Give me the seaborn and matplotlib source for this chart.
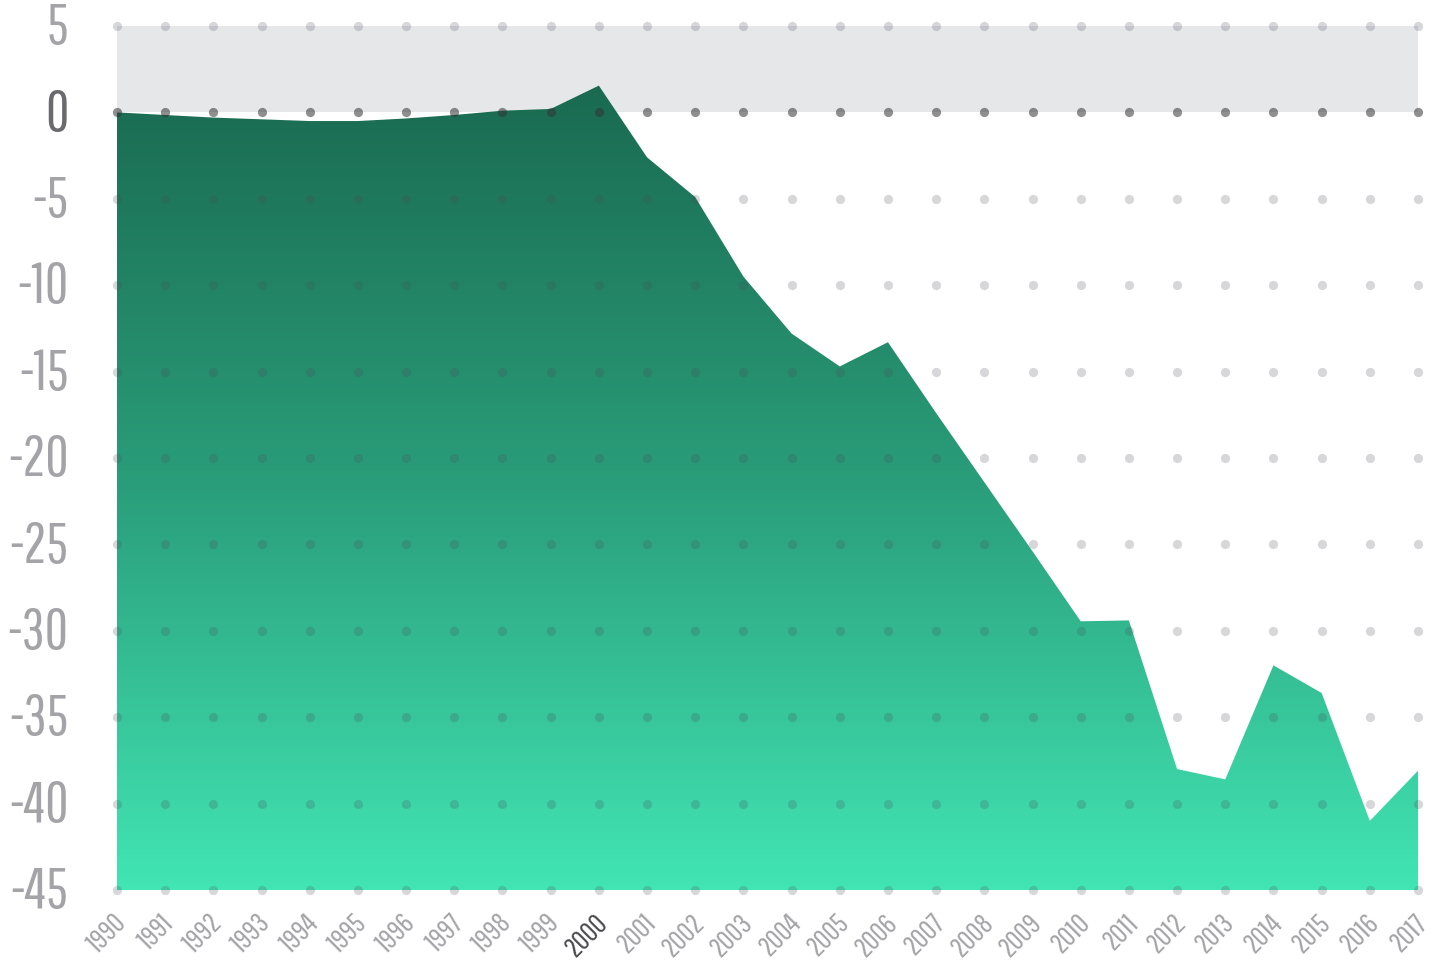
import matplotlib
matplotlib.use('Agg')
import matplotlib.pyplot as plt
import matplotlib.transforms as mtransforms
from matplotlib.colors import LinearSegmentedColormap
import seaborn as sns
import pandas as pd
import numpy as np

years = list(range(1990, 2018))
values = [0.0, -0.15, -0.3, -0.4, -0.5, -0.5, -0.35, -0.15, 0.1, 0.2,
          1.55, -2.6, -4.9, -9.5, -12.8, -14.7, -13.3, -17.4, -21.4, -25.4,
          -29.45, -29.4, -38.0, -38.6, -32.0, -33.6, -41.0, -38.1]
y_ticks = [5, 0, -5, -10, -15, -20, -25, -30, -35, -40, -45]

sns.set_style('white')
plt.rcParams['font.family'] = ['Pathway Gothic One', 'DejaVu Sans']

fig = plt.figure(figsize=(14.53, 9.65), dpi=100)
ax = fig.add_axes([117/1453, 1 - 890/965, (1418-117)/1453, (890-26)/965])
ax.set_xlim(1990, 2017)
ax.set_ylim(-45, 5)

# grey band above zero
ax.axhspan(0, 5, color='#e6e7e9', zorder=0, lw=0)

# gradient area clipped by the data polygon
poly = ax.fill_between(years, values, -45, color='none', lw=0, zorder=1)
cmap = LinearSegmentedColormap.from_list('grn', ['#1a6a50', '#2a9e7a', '#42e5b4'])
grad = np.linspace(0, 1, 256).reshape(-1, 1)
im = ax.imshow(grad, cmap=cmap, aspect='auto', extent=[1990, 2017, -45, 1.6],
               origin='upper', zorder=1)
im.set_clip_path(poly.get_paths()[0], transform=ax.transData)

# dotted grid
grid = pd.DataFrame([(x, y) for x in years for y in y_ticks], columns=['year', 'level'])
rest = grid[grid['level'] != 0]
zero = grid[grid['level'] == 0]
sns.scatterplot(data=rest, x='year', y='level', color='#4a4a5a', alpha=0.22, s=44,
                linewidth=0, ax=ax, zorder=3, clip_on=False, legend=False)
sns.scatterplot(data=zero, x='year', y='level', color='#333336', alpha=0.55, s=44,
                linewidth=0, ax=ax, zorder=3, clip_on=False, legend=False)

for s in ax.spines.values():
    s.set_visible(False)
ax.grid(False)
ax.set_xlabel('')
ax.set_ylabel('')

ax.set_yticks(y_ticks)
ax.set_yticklabels([str(t) for t in y_ticks], fontsize=41, color='#a4a4a8')
ax.tick_params(axis='y', length=0, pad=35)
up = mtransforms.ScaledTranslation(0, 3/100, fig.dpi_scale_trans)
for lab, t in zip(ax.get_yticklabels(), y_ticks):
    lab.set_transform(lab.get_transform() + up)
    if t == 0:
        lab.set_color('#6a6a6e')

ax.set_xticks(years)
ax.set_xticklabels([str(y) for y in years], fontsize=21, color='#a4a4a8',
                   rotation=45, ha='right', va='top')
ax.tick_params(axis='x', length=0, pad=14)
shift = mtransforms.ScaledTranslation(14/100, 0, fig.dpi_scale_trans)
for lab, y in zip(ax.get_xticklabels(), years):
    lab.set_transform(lab.get_transform() + shift)
    if y == 2000:
        lab.set_color('#4a4a4e')

fig.savefig('out.png', dpi=100, facecolor='white')
